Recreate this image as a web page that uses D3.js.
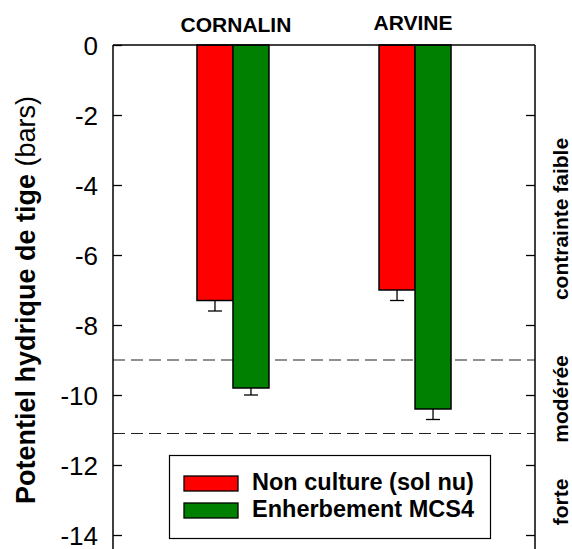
<!DOCTYPE html>
<html>
<head>
<meta charset="utf-8">
<script src="https://cdn.jsdelivr.net/npm/d3@7"></script>
<style>
  body { margin: 0; background: #fff; }
  text { font-family: "Liberation Sans", Arial, sans-serif; }
</style>
</head>
<body>
<svg id="chart" width="572" height="549"></svg>
<script>
var categories = ["CORNALIN", "ARVINE"];
var seriesNames = ["Non culture (sol nu)", "Enherbement MCS4"];
var nonCulture = [-7.3, -7.0];
var nonCultureErr = [0.3, 0.3];
var enherbement = [-9.8, -10.4];
var enherbementErr = [0.2, 0.3];
var yTicks = [0, -2, -4, -6, -8, -10, -12, -14];
var zoneLimits = [-9, -11.1];
var zoneLabels = ["contrainte faible", "modérée", "forte"];
var colors = ["#ff0000", "#008000"];

var svg = d3.select("#chart");
var plotLeft = 113, plotRight = 535, plotTop = 45;

var y = d3.scaleLinear().domain([0, -14.5]).range([plotTop, plotTop + 14.5 * 35]);
var x = d3.scalePoint().domain(categories).range([plotLeft, plotRight]).padding(0.659);
var xs = d3.scaleBand().domain(seriesNames).range([-36, 36]);

// zone limits (dashed)
svg.append("g").selectAll("line")
    .data(zoneLimits)
    .enter().append("line")
    .attr("x1", plotLeft).attr("x2", plotRight)
    .attr("y1", function (d) { return y(d); })
    .attr("y2", function (d) { return y(d); })
    .attr("stroke", "#222")
    .attr("stroke-width", 1.1)
    .attr("stroke-dasharray", "12,6");

// bars
var rows = [];
categories.forEach(function (c, i) {
    rows.push({ cat: c, s: seriesNames[0], v: nonCulture[i], e: nonCultureErr[i], col: colors[0] });
    rows.push({ cat: c, s: seriesNames[1], v: enherbement[i], e: enherbementErr[i], col: colors[1] });
});

function cx(d) { return x(d.cat) + xs(d.s) + xs.bandwidth() / 2; }

var bars = svg.append("g");
bars.selectAll("line.err")
    .data(rows)
    .enter().append("line")
    .attr("class", "err")
    .attr("x1", cx).attr("x2", cx)
    .attr("y1", function (d) { return y(d.v); })
    .attr("y2", function (d) { return y(d.v - d.e); })
    .attr("stroke", "#000").attr("stroke-width", 1.3);
bars.selectAll("line.cap")
    .data(rows)
    .enter().append("line")
    .attr("class", "cap")
    .attr("x1", function (d) { return cx(d) - 7; })
    .attr("x2", function (d) { return cx(d) + 7; })
    .attr("y1", function (d) { return y(d.v - d.e); })
    .attr("y2", function (d) { return y(d.v - d.e); })
    .attr("stroke", "#000").attr("stroke-width", 1.3);
bars.selectAll("rect")
    .data(rows)
    .enter().append("rect")
    .attr("x", function (d) { return x(d.cat) + xs(d.s); })
    .attr("y", y(0))
    .attr("width", xs.bandwidth())
    .attr("height", function (d) { return y(d.v) - y(0); })
    .attr("fill", function (d) { return d.col; })
    .attr("stroke", "#000")
    .attr("stroke-width", 1.5);

// axes
var yAxisL = d3.axisLeft(y).tickValues(yTicks).tickSize(-9).tickPadding(15)
    .tickFormat(function (d) { return String(d); });
var gL = svg.append("g").attr("transform", "translate(" + plotLeft + ",0)").call(yAxisL);
gL.select(".domain").remove();
gL.selectAll("line").attr("stroke-width", 1.3);
gL.selectAll("text").attr("font-size", 26).attr("fill", "#000")
    .attr("font-family", "'Liberation Sans', Arial, sans-serif").attr("dy", "0.36em");

var yAxisR = d3.axisRight(y).tickValues(yTicks.slice(1)).tickSize(-9).tickFormat("");
var gR = svg.append("g").attr("transform", "translate(" + plotRight + ",0)").call(yAxisR);
gR.select(".domain").remove();
gR.selectAll("line").attr("stroke-width", 1.3);

// frame lines
svg.append("line").attr("x1", plotLeft).attr("x2", plotLeft).attr("y1", plotTop).attr("y2", 549)
    .attr("stroke", "#000").attr("stroke-width", 1.5);
svg.append("line").attr("x1", plotRight).attr("x2", plotRight).attr("y1", plotTop).attr("y2", 549)
    .attr("stroke", "#000").attr("stroke-width", 1.5);
svg.append("line").attr("x1", plotLeft).attr("x2", plotRight).attr("y1", plotTop).attr("y2", plotTop)
    .attr("stroke", "#000").attr("stroke-width", 1.5);

// category labels on top
var catY = [32, 30];
var catShift = [3, -2];
svg.append("g").selectAll("text")
    .data(categories)
    .enter().append("text")
    .attr("x", function (d, i) { return x(d) + catShift[i]; })
    .attr("y", function (d, i) { return catY[i]; })
    .attr("text-anchor", "middle")
    .attr("font-size", 21)
    .attr("font-weight", "bold")
    .text(function (d) { return d; });

// y title
var yt = svg.append("text")
    .attr("transform", "translate(35,300) rotate(-90)")
    .attr("text-anchor", "middle")
    .attr("font-size", 27);
yt.append("tspan").attr("font-weight", "bold").text("Potentiel hydrique de tige");
yt.append("tspan").text(" (bars)");

// zone labels on right
var zoneCenters = [219, 399, 502];
svg.append("g").selectAll("text")
    .data(zoneLabels)
    .enter().append("text")
    .attr("transform", function (d, i) { return "translate(568," + zoneCenters[i] + ") rotate(-90)"; })
    .attr("text-anchor", "middle")
    .attr("font-size", 21)
    .attr("font-weight", "bold")
    .text(function (d) { return d; });

// legend
var lg = svg.append("g");
lg.append("rect").attr("x", 169.5).attr("y", 455.5).attr("width", 321).attr("height", 83)
    .attr("fill", "#fff").attr("stroke", "#000").attr("stroke-width", 1.2);
var legY = [476, 503];
seriesNames.forEach(function (s, i) {
    lg.append("rect").attr("x", 184).attr("y", legY[i]).attr("width", 54).attr("height", 15)
        .attr("fill", colors[i]).attr("stroke", "#000").attr("stroke-width", 1.3);
    lg.append("text").attr("x", 252).attr("y", legY[i] + 14)
        .attr("font-size", 23.5).attr("font-weight", "bold").text(s);
});
</script>
</body>
</html>
